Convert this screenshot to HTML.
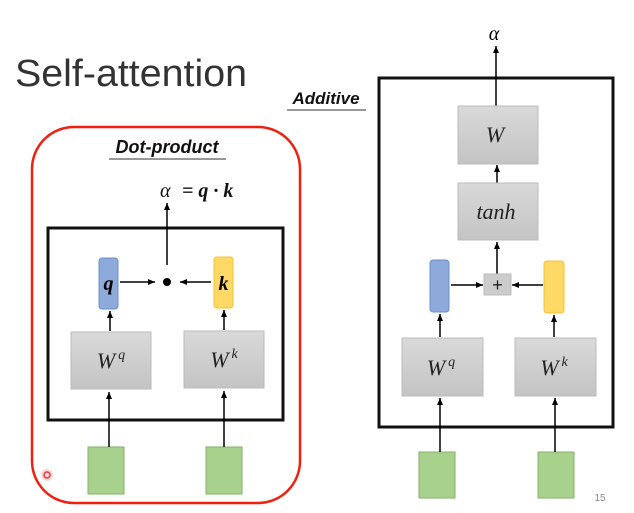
<!DOCTYPE html>
<html><head><meta charset="utf-8"><style>html,body{margin:0;padding:0;background:#fff}svg{display:block}</style></head>
<body>
<svg width="634" height="513" viewBox="0 0 634 513" xmlns="http://www.w3.org/2000/svg">
<defs>
<marker id="a" markerWidth="8" markerHeight="8" refX="7" refY="4" orient="auto" markerUnits="userSpaceOnUse"><path d="M0,1 L7,4 L0,7 z" fill="#000"/></marker>
<linearGradient id="g" x1="0" y1="0" x2="0" y2="1"><stop offset="0" stop-color="#d9d9d9"/><stop offset="1" stop-color="#c4c4c4"/></linearGradient>
</defs>
<g font-family="Liberation Sans, sans-serif">
<text x="15" y="86" font-size="38" fill="#333" textLength="232" lengthAdjust="spacingAndGlyphs">Self-attention</text>
<!-- Left -->
<rect x="32" y="127" width="268" height="376" rx="42" fill="none" stroke="#f02010" stroke-width="2.5"/>
<text x="167" y="153" font-size="18" font-weight="bold" font-style="italic" text-anchor="middle" fill="#111">Dot-product</text>
<line x1="109" y1="159" x2="226" y2="159" stroke="#777" stroke-width="1.5"/>
<text x="160" y="197" font-size="20" font-style="italic" font-family="Liberation Serif, serif" fill="#111">α</text>
<text x="182" y="197" font-size="20" font-weight="bold" font-style="italic" font-family="Liberation Serif, serif" fill="#111">= q · k</text>
<rect x="48" y="228" width="235" height="192" fill="none" stroke="#111" stroke-width="3"/>
<rect x="99" y="258" width="19" height="51" rx="3" fill="#8eaadb" stroke="#6f8fce"/>
<text x="108.5" y="290" font-size="20" font-weight="bold" font-style="italic" font-family="Liberation Serif, serif" text-anchor="middle">q</text>
<rect x="214" y="257" width="19" height="51" rx="3" fill="#ffd966" stroke="#f4c030"/>
<text x="223.5" y="290" font-size="20" font-weight="bold" font-style="italic" font-family="Liberation Serif, serif" text-anchor="middle">k</text>
<circle cx="167" cy="282" r="4" fill="#000"/>
<line x1="120" y1="282" x2="155" y2="282" stroke="#000" stroke-width="1.5" marker-end="url(#a)"/>
<line x1="211" y1="282" x2="180" y2="282" stroke="#000" stroke-width="1.5" marker-end="url(#a)"/>
<line x1="167" y1="265" x2="167" y2="203" stroke="#000" stroke-width="1.5" marker-end="url(#a)"/>
<rect x="71" y="332" width="80" height="57" fill="url(#g)" stroke="#bbb"/>
<rect x="184" y="331" width="80" height="57" fill="url(#g)" stroke="#bbb"/>
<text x="111" y="368" font-size="22" font-style="italic" font-family="Liberation Serif, serif" text-anchor="middle" fill="#222">W<tspan font-size="14" dx="3" dy="-9">q</tspan></text>
<text x="224" y="367" font-size="22" font-style="italic" font-family="Liberation Serif, serif" text-anchor="middle" fill="#222">W<tspan font-size="14" dx="3" dy="-9">k</tspan></text>
<line x1="110" y1="331" x2="110" y2="311" stroke="#000" stroke-width="1.5" marker-end="url(#a)"/>
<line x1="224" y1="330" x2="224" y2="310" stroke="#000" stroke-width="1.5" marker-end="url(#a)"/>
<rect x="88" y="447" width="36" height="47" fill="#a9d18e" stroke="#82b366"/>
<rect x="206" y="447" width="36" height="47" fill="#a9d18e" stroke="#82b366"/>
<line x1="109" y1="447" x2="109" y2="392" stroke="#000" stroke-width="1.5" marker-end="url(#a)"/>
<line x1="224" y1="447" x2="224" y2="391" stroke="#000" stroke-width="1.5" marker-end="url(#a)"/>
<circle cx="47" cy="475" r="3" fill="none" stroke="#e03030" stroke-width="1.5"/>
<circle cx="47" cy="475" r="6" fill="#f06060" opacity="0.25"/>
<!-- Right -->
<text x="326" y="104" font-size="17" font-weight="bold" font-style="italic" text-anchor="middle" fill="#111">Additive</text>
<line x1="287" y1="110" x2="366" y2="110" stroke="#777" stroke-width="1.5"/>
<rect x="379" y="78" width="234" height="349" fill="none" stroke="#111" stroke-width="3"/>
<text x="494" y="40" font-size="20" font-style="italic" font-family="Liberation Serif, serif" text-anchor="middle">α</text>
<line x1="496" y1="106" x2="496" y2="46" stroke="#000" stroke-width="1.5" marker-end="url(#a)"/>
<rect x="458" y="106" width="80" height="58" fill="url(#g)" stroke="#bbb"/>
<text x="495" y="142" font-size="22" font-style="italic" font-family="Liberation Serif, serif" text-anchor="middle" fill="#222">W</text>
<line x1="497" y1="183" x2="497" y2="165" stroke="#000" stroke-width="1.5" marker-end="url(#a)"/>
<rect x="458" y="183" width="80" height="57" fill="url(#g)" stroke="#bbb"/>
<text x="496" y="219" font-size="22" font-style="italic" font-family="Liberation Serif, serif" text-anchor="middle" fill="#222">tanh</text>
<line x1="497" y1="274" x2="497" y2="242" stroke="#000" stroke-width="1.5" marker-end="url(#a)"/>
<rect x="484" y="274" width="27" height="21" fill="#ccc" stroke="#bbb"/>
<text x="497.5" y="291" font-size="18" text-anchor="middle" fill="#222">+</text>
<rect x="430" y="260" width="19" height="52" rx="3" fill="#8eaadb" stroke="#6f8fce"/>
<rect x="544" y="261" width="20" height="52" rx="3" fill="#ffd966" stroke="#f4c030"/>
<line x1="451" y1="285" x2="483" y2="285" stroke="#000" stroke-width="1.5" marker-end="url(#a)"/>
<line x1="543" y1="285" x2="512" y2="285" stroke="#000" stroke-width="1.5" marker-end="url(#a)"/>
<rect x="402" y="338" width="81" height="58" fill="url(#g)" stroke="#bbb"/>
<rect x="515" y="338" width="81" height="58" fill="url(#g)" stroke="#bbb"/>
<text x="441" y="375" font-size="22" font-style="italic" font-family="Liberation Serif, serif" text-anchor="middle" fill="#222">W<tspan font-size="14" dx="3" dy="-9">q</tspan></text>
<text x="554" y="375" font-size="22" font-style="italic" font-family="Liberation Serif, serif" text-anchor="middle" fill="#222">W<tspan font-size="14" dx="3" dy="-9">k</tspan></text>
<line x1="440" y1="337" x2="440" y2="314" stroke="#000" stroke-width="1.5" marker-end="url(#a)"/>
<line x1="554" y1="337" x2="554" y2="315" stroke="#000" stroke-width="1.5" marker-end="url(#a)"/>
<rect x="419" y="452" width="36" height="46" fill="#a9d18e" stroke="#82b366"/>
<rect x="538" y="452" width="36" height="46" fill="#a9d18e" stroke="#82b366"/>
<line x1="440" y1="452" x2="440" y2="398" stroke="#000" stroke-width="1.5" marker-end="url(#a)"/>
<line x1="555" y1="452" x2="555" y2="398" stroke="#000" stroke-width="1.5" marker-end="url(#a)"/>
<text x="600" y="501" font-size="10" fill="#888" text-anchor="middle">15</text>
</g>
</svg>
</body></html>
